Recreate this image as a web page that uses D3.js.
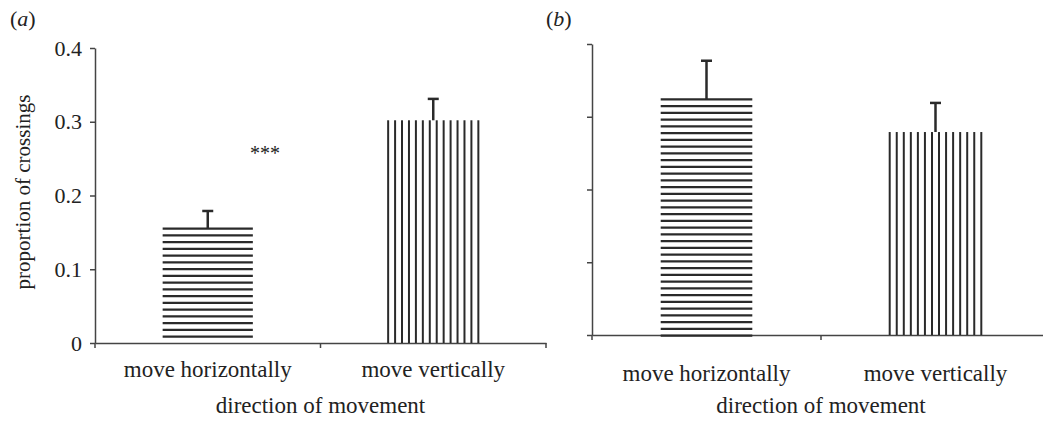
<!DOCTYPE html>
<html>
<head>
<meta charset="utf-8">
<script src="https://cdn.jsdelivr.net/npm/d3@7"></script>
<style>
  body { margin: 0; background: #fff; }
  svg { display: block; }
  text { font-family: "Liberation Serif", "Times New Roman", serif; fill: #222; }
</style>
</head>
<body>
<svg id="chart" width="1043" height="421"></svg>
<script>
// data
const categories = ["move horizontally", "move vertically"];
const hatching = ["horizontal", "vertical"];
const yTicks = [0, 0.1, 0.2, 0.3, 0.4];
const meansA = [0.155, 0.302];
const errorsA = [0.024, 0.029];
const meansB = [0.324, 0.279];
const errorsB = [0.053, 0.040];

const svg = d3.select("#chart");
const ink = "#2a2a2a";

function drawPanel(opts) {
  const g = svg.append("g");
  const x = d3.scaleBand()
      .domain(categories)
      .range([opts.left, opts.right])
      .paddingInner(0.6)
      .paddingOuter(0.3);
  const y = d3.scaleLinear().domain([0, 0.4]).range([opts.bottom, opts.top]);

  // y axis
  const yAxis = d3.axisLeft(y)
      .tickValues(yTicks)
      .tickSize(5)
      .tickSizeOuter(0)
      .tickPadding(8)
      .tickFormat(opts.showLabels ? (d => d === 0 ? "0" : d3.format(".1f")(d)) : "");
  const ya = g.append("g")
      .attr("transform", "translate(" + opts.left + ",0)")
      .call(yAxis);
  ya.selectAll("path, line").attr("stroke", "#444").attr("stroke-width", 1.5);
  ya.selectAll("text").style("font-size", "22px").attr("fill", "#222");

  // x axis, ticks at category boundaries
  const xAxis = d3.axisBottom(x).tickSize(0).tickSizeOuter(0).tickPadding(opts.labelPad);
  const xa = g.append("g")
      .attr("transform", "translate(0," + opts.bottom + ")")
      .call(xAxis);
  xa.select("path").attr("stroke", "#444").attr("stroke-width", 1.5);
  xa.selectAll("text").style("font-size", "23px").attr("fill", "#222");
  const step = x.step();
  const bounds = d3.range(categories.length + 1).map(i => opts.left + i * step);
  g.selectAll(".xtick").data(bounds).join("line")
      .attr("class", "xtick")
      .attr("x1", d => d).attr("x2", d => d)
      .attr("y1", opts.bottom).attr("y2", opts.bottom + 5)
      .attr("stroke", "#444").attr("stroke-width", 1.5);

  g.append("text")
      .attr("x", (opts.left + opts.left + 2 * step) / 2)
      .attr("y", opts.titleY)
      .attr("text-anchor", "middle")
      .style("font-size", "23px")
      .text("direction of movement");

  // bars with hatching
  opts.means.forEach((m, i) => {
    const x0 = x(categories[i]);
    const w = x.bandwidth();
    const yTop = y(m);
    const bars = g.append("g");
    if (hatching[i] === "horizontal") {
      const sp = 6.75;
      const rows = d3.range(yTop, opts.bottom + opts.stripeEnd, sp);
      bars.selectAll("line").data(rows).join("line")
          .attr("x1", x0).attr("x2", x0 + w)
          .attr("y1", d => d).attr("y2", d => d)
          .attr("stroke", ink).attr("stroke-width", 2.3);
    } else {
      const n = 14;
      const cols = d3.range(n).map(k => x0 + k * w / (n - 1));
      bars.selectAll("line").data(cols).join("line")
          .attr("x1", d => d).attr("x2", d => d)
          .attr("y1", yTop).attr("y2", opts.bottom)
          .attr("stroke", ink).attr("stroke-width", 2);
    }
    // error bar
    const cx = x0 + w / 2;
    const yErr = y(m + opts.errors[i]);
    g.append("line")
        .attr("x1", cx).attr("x2", cx)
        .attr("y1", yTop).attr("y2", yErr)
        .attr("stroke", ink).attr("stroke-width", 2.5);
    g.append("line")
        .attr("x1", cx - 5.5).attr("x2", cx + 5.5)
        .attr("y1", yErr).attr("y2", yErr)
        .attr("stroke", ink).attr("stroke-width", 2.5);
  });

  // panel letter
  const lab = g.append("text")
      .attr("x", opts.letterX)
      .attr("y", 26)
      .style("font-size", "22px");
  lab.append("tspan").text("(");
  lab.append("tspan").style("font-style", "italic").text(opts.letter);
  lab.append("tspan").text(")");
  return { g, x, y };
}

const a = drawPanel({
  left: 95, right: 546, top: 48, bottom: 343,
  means: meansA, errors: errorsA, showLabels: true,
  labelPad: 18, titleY: 413, letter: "a", letterX: 10, stripeEnd: -4
});
const b = drawPanel({
  left: 592, right: 1050, top: 44, bottom: 335,
  means: meansB, errors: errorsB, showLabels: false,
  labelPad: 30, titleY: 413, letter: "b", letterX: 546, stripeEnd: 1
});

// y label
svg.append("text")
    .attr("transform", "translate(30," + 192 + ") rotate(-90)")
    .attr("text-anchor", "middle")
    .style("font-size", "21px")
    .text("proportion of crossings");

// significance stars
svg.append("text")
    .attr("x", 265)
    .attr("y", 160)
    .attr("text-anchor", "middle")
    .style("font-size", "20px")
    .attr("fill", "#555")
    .text("***");
</script>
</body>
</html>
